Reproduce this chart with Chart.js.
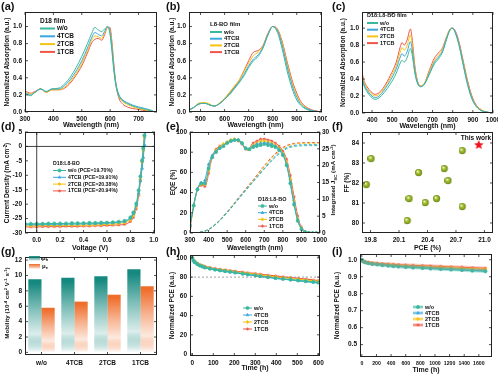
<!DOCTYPE html>
<html lang="en">
<head>
<meta charset="UTF-8" />
<title>TCB additive: absorption, J-V, EQE, mobility and stability</title>
<script src="https://cdn.jsdelivr.net/npm/chart.js"></script>
<style>
  body { margin: 0; background: #fff; }
  #fig { position: relative; width: 500px; height: 375px; overflow: hidden;
         font-family: "Liberation Sans", Arial, sans-serif; }
  #fig canvas { position: absolute; }
  .lab { position: absolute; z-index: 2; font-weight: bold; font-size: 11px; line-height: 11px; color: #111; }
</style>
</head>
<body>
<div id="fig">
  <div class="lab" style="left:1px;top:1px">(a)</div>
  <div class="lab" style="left:166px;top:1px">(b)</div>
  <div class="lab" style="left:332px;top:1px">(c)</div>
  <div class="lab" style="left:1px;top:121px">(d)</div>
  <div class="lab" style="left:166px;top:121px">(e)</div>
  <div class="lab" style="left:332px;top:121px">(f)</div>
  <div class="lab" style="left:1px;top:246px">(g)</div>
  <div class="lab" style="left:166px;top:246px">(h)</div>
  <div class="lab" style="left:332px;top:246px">(i)</div>
</div>

<script>
const FONT = '"Liberation Sans", Arial, sans-serif';
Chart.defaults.font.family = FONT;
Chart.defaults.font.size = 6.5;
Chart.defaults.font.weight = 'bold';
Chart.defaults.color = '#111';

const NAMES = ['w/o', '4TCB', '2TCB', '1TCB'];
const COL = ['#3bb79e', '#3ba7dd', '#f5c313', '#ef5547'];
const MARK = ['circle', 'triangle', 'rectRot', 'star'];

// (a) D18 film
const A_WL = [300,310,320,335,355,375,395,420,440,460,480,500,520,535,546,558,570,580,591,599,606,613,620,630,645,660,680,700,725,750];
const A_WO = [0.22,0.20,0.19,0.23,0.27,0.24,0.27,0.28,0.33,0.41,0.52,0.65,0.80,0.92,0.99,0.96,0.94,0.97,1.00,0.92,0.72,0.48,0.31,0.19,0.13,0.10,0.07,0.05,0.03,0.01];
const A_4TCB = [0.23,0.21,0.20,0.23,0.27,0.24,0.27,0.27,0.31,0.38,0.48,0.60,0.75,0.87,0.93,0.91,0.89,0.94,1.00,0.94,0.76,0.52,0.34,0.21,0.14,0.11,0.08,0.06,0.04,0.015];
const A_2TCB = [0.24,0.22,0.21,0.23,0.27,0.23,0.26,0.26,0.29,0.36,0.45,0.57,0.72,0.84,0.89,0.88,0.86,0.92,0.99,0.96,0.79,0.54,0.34,0.19,0.12,0.09,0.06,0.04,0.025,0.01];
const A_1TCB = [0.25,0.23,0.22,0.24,0.27,0.23,0.26,0.26,0.28,0.34,0.43,0.54,0.69,0.81,0.85,0.86,0.84,0.90,0.99,0.99,0.83,0.56,0.33,0.17,0.09,0.06,0.04,0.03,0.015,0.005];

// (b) L8-BO film
const B_WL = [450,470,490,505,520,540,558,580,600,620,640,660,680,700,720,740,760,780,800,820,840,860,880,900,920,950,1000];
const B_WO = [0.02,0.05,0.09,0.10,0.10,0.08,0.07,0.10,0.15,0.20,0.27,0.34,0.42,0.52,0.60,0.65,0.75,0.90,1.00,0.93,0.73,0.48,0.28,0.14,0.07,0.02,0.0];
const B_4TCB = [0.02,0.05,0.09,0.10,0.10,0.08,0.07,0.10,0.15,0.21,0.28,0.35,0.44,0.54,0.62,0.67,0.76,0.90,1.00,0.95,0.77,0.53,0.32,0.17,0.08,0.03,0.0];
const B_2TCB = [0.02,0.05,0.10,0.11,0.11,0.09,0.07,0.11,0.16,0.23,0.30,0.37,0.47,0.57,0.66,0.70,0.77,0.91,1.00,0.96,0.80,0.56,0.35,0.19,0.10,0.03,0.0];
const B_1TCB = [0.02,0.05,0.09,0.10,0.10,0.08,0.07,0.10,0.15,0.22,0.29,0.37,0.48,0.60,0.70,0.72,0.78,0.92,1.00,0.97,0.82,0.59,0.38,0.22,0.11,0.04,0.0];

// (c) D18:L8-BO blend film
const C_WL = [350,360,375,395,415,435,460,490,520,540,548,560,575,590,600,612,625,640,660,685,710,730,750,770,785,797,810,830,850,870,890,910,940,970,1000];
const C_WO = [0.40,0.32,0.25,0.19,0.16,0.18,0.24,0.34,0.47,0.59,0.62,0.60,0.66,0.76,0.67,0.47,0.35,0.31,0.34,0.46,0.58,0.64,0.72,0.87,0.97,1.00,0.96,0.81,0.59,0.37,0.20,0.10,0.03,0.01,0.0];
const C_4TCB = [0.43,0.34,0.27,0.21,0.18,0.20,0.27,0.38,0.52,0.66,0.70,0.67,0.73,0.84,0.73,0.50,0.36,0.31,0.34,0.47,0.60,0.66,0.73,0.88,0.97,1.00,0.97,0.82,0.60,0.38,0.21,0.10,0.03,0.01,0.0];
const C_2TCB = [0.45,0.36,0.29,0.23,0.20,0.22,0.29,0.41,0.56,0.72,0.77,0.74,0.80,0.92,0.79,0.53,0.37,0.32,0.35,0.49,0.62,0.68,0.75,0.89,0.98,1.00,0.97,0.83,0.62,0.40,0.22,0.11,0.04,0.01,0.0];
const C_1TCB = [0.48,0.38,0.31,0.25,0.22,0.24,0.31,0.44,0.60,0.78,0.83,0.80,0.87,0.99,0.85,0.56,0.38,0.32,0.35,0.51,0.65,0.71,0.77,0.90,0.98,1.00,0.98,0.85,0.64,0.42,0.24,0.12,0.04,0.01,0.0];

// (d) J-V
const V = [-0.1,-0.05,0,0.05,0.1,0.15,0.2,0.25,0.3,0.35,0.4,0.45,0.5,0.55,0.6,0.65,0.7,0.75,0.8,0.825,0.85,0.87,0.885,0.9,0.91,0.92,0.93];
const J_WO = [-26.8,-26.8,-26.8,-26.8,-26.7,-26.7,-26.7,-26.7,-26.6,-26.6,-26.6,-26.5,-26.5,-26.4,-26.4,-26.3,-26.1,-25.8,-24.6,-22.9,-19.8,-15.2,-10.4,-4.8,-0.6,3.8,8.5];
const J_4TCB = [-27.1,-27.1,-27.1,-27.0,-27.0,-27.0,-27.0,-26.9,-26.9,-26.9,-26.8,-26.8,-26.8,-26.7,-26.6,-26.5,-26.3,-26.0,-24.9,-23.3,-20.4,-16.2,-12.0,-7.6,-3.8,0.6,5.2];
const J_2TCB = [-27.5,-27.5,-27.5,-27.4,-27.4,-27.4,-27.4,-27.3,-27.3,-27.3,-27.2,-27.2,-27.2,-27.1,-27.0,-26.9,-26.7,-26.4,-25.4,-23.9,-20.9,-16.5,-11.5,-5.5,-1.4,3.2,8.0];
const J_1TCB = [-27.9,-27.9,-27.9,-27.8,-27.8,-27.8,-27.8,-27.7,-27.7,-27.7,-27.6,-27.6,-27.5,-27.5,-27.4,-27.3,-27.2,-27.0,-26.0,-24.6,-21.6,-17.0,-11.8,-5.2,-0.8,4.0,9.0];
const PCE = [19.70, 19.91, 20.38, 20.94];

// (e) EQE and integrated Jsc
const EQE_WL = [300,310,320,330,340,350,360,370,380,390,400,410,420,430,440,450,460,470,480,490,500,510,520,530,540,550,560,570,580,590,600,610,620,630,640,650,660,670,680,690,700,710,720,730,740,750,760,770,780,790,800,810,820,830,840,850,860,870,880,890,900,910,920,930,940,950,960,970,980,990,1000];
const EQE_WO = [8,17,27,36,43,47,49,49,49,54, 64,71,75,78,80,82,84,85,86,88, 89,90,91,92,92,92,92,91,89,86, 84,83,83,84,85,86,86,87,87,87, 88,88,87,87,86,86,85,84,82,80, 77,73,67,59,49,38,28,19,12,7, 4,2,1,0.5,0.2,0,0,0,0,0, 0];
const EQE_4TCB = [7,17,28,37,44,48,50,50,52,60, 68,73,77,79,81,83,84,85,86,88, 89,90,91,91,92,92,92,91,89,86, 84,83,83,85,86,87,88,88,89,89, 89,89,89,88,88,87,86,85,83,81, 78,74,68,60,50,40,30,20,13,8, 4,2,1,0.5,0.2,0,0,0,0,0, 0];
const EQE_2TCB = [6,16,27,36,43,47,48,48,48,53, 62,70,75,79,82,84,85,87,88,89, 90,91,92,92,93,92,92,91,89,86, 84,82,83,86,87,88,89,90,91,91, 91,91,90,90,89,88,87,86,84,82, 79,76,70,63,53,43,32,22,14,8, 5,2,1,0.5,0.2,0,0,0,0,0, 0];
const EQE_1TCB = [5,16,27,36,43,46,47,47,46,50, 59,68,75,80,83,85,86,87,88,89, 90,91,92,92,92,92,91,90,88,85, 83,82,83,87,89,90,91,92,93,93, 93,93,92,92,91,90,89,88,86,84, 81,78,73,66,57,47,36,26,17,10, 6,3,1.5,0.7,0.3,0.1,0,0,0,0, 0];
const JINT_WL = [300,350,400,450,500,550,600,650,700,750,800,850,900,950,1000];
const JINT_WO = [0,0.2,1.0,3.1,6.0,9.3,12.6,15.8,19.0,22.0,24.4,25.6,25.9,25.95,25.95];
const JINT_4TCB = [0,0.2,1.1,3.3,6.2,9.5,12.8,16.0,19.2,22.3,24.7,25.9,26.2,26.25,26.25];
const JINT_2TCB = [0,0.2,1.0,3.2,6.2,9.6,12.9,16.3,19.7,22.8,25.1,26.3,26.6,26.65,26.65];
const JINT_1TCB = [0,0.2,1.0,3.2,6.3,9.7,13.1,16.5,20.0,23.1,25.4,26.5,26.8,26.85,26.85];

// (f) literature PCE vs FF
const LIT_PCE = [19.76, 19.81, 20.19, 20.21, 20.31, 20.38, 20.50, 20.58, 20.62, 20.77, 20.77];
const LIT_FF = [81.9, 83.2, 80.1, 81.2, 82.5, 81.0, 81.2, 82.7, 82.1, 83.6, 80.8];
const THIS_PCE = 20.94;
const THIS_FF = 83.9;

// (g) mobility
const CATS = ['w/o', '4TCB', '2TCB', '1TCB'];
const MU_H = [9.5, 9.7, 9.9, 10.8];
const MU_E = [5.8, 6.6, 7.5, 8.6];

// (h) stability under condition 1
const T_H = [0,6,12,24,36,48,60,84,108,132,156,180,204,240,264,300,324,360,396,432,468,504,540,576,600];
const H_WO = [100,97,95.5,93.5,92,91,90,88.8,87.8,87,86.2,85.5,84.8,83.6,82.8,81.8,81,80,79,78.2,77.4,76.6,75.8,75,74.4];
const H_4TCB = [100,97,95.3,93.3,91.8,90.8,89.8,88.6,87.6,86.8,86,85.2,84.5,83.3,82.5,81.5,80.7,79.7,78.7,77.8,77,76.2,75.4,74.6,74];
const H_2TCB = [100,97.3,96,94,92.6,91.6,90.6,89.4,88.4,87.7,87,86.3,85.6,84.5,83.8,82.9,82.2,81.2,80.3,79.4,78.6,77.8,77,76.2,75.6];
const H_1TCB = [100,97.8,96.5,94.5,93,92,91.2,90,89,88.2,87.5,86.8,86.2,85.2,84.5,83.7,83,82,81.2,80.3,79.5,78.7,77.9,77,76.4];
const H_REF = 80;

// (i) stability under condition 2
const T_I = [0,20,45,90,140,210,280,360,430,500,600,700,830,940,1080,1220,1370,1510,1690];
const I_WO = [1.0,0.99,0.985,0.98,0.975,0.972,0.968,0.965,0.962,0.96,0.957,0.954,0.951,0.948,0.945,0.942,0.939,0.936,0.932];
const I_4TCB = [1.0,0.99,0.985,0.98,0.976,0.973,0.97,0.967,0.964,0.962,0.96,0.957,0.954,0.951,0.948,0.945,0.942,0.939,0.936];
const I_2TCB = [1.0,0.99,0.986,0.982,0.978,0.975,0.973,0.97,0.968,0.966,0.964,0.961,0.959,0.956,0.954,0.951,0.949,0.946,0.943];
const I_1TCB = [1.0,0.992,0.988,0.985,0.982,0.979,0.977,0.975,0.973,0.971,0.969,0.967,0.965,0.963,0.961,0.958,0.956,0.953,0.95];

// ---------- helpers ----------
const pts = (xs, ys) => xs.map((x, k) => ({x: x, y: ys[k]}));
const f0 = v => String(v);
const f1 = v => v.toFixed(1);

function rgba(hex, a) {
  const n = parseInt(hex.slice(1), 16);
  return `rgba(${n >> 16},${(n >> 8) & 255},${n & 255},${a})`;
}

function lin(min, max, ticks, fmt, title, extra) {
  return Object.assign({
    type: 'linear', min: min, max: max,
    grid: {display: false, drawTicks: false}, border: {display: false},
    ticks: {padding: 3, autoSkip: false, maxRotation: 0, callback: v => fmt(v)},
    afterBuildTicks: s => { s.ticks = ticks.map(v => ({value: v})); },
    title: title ? {display: true, text: title.text, font: {size: title.size || 6.5, weight: 'bold'}, padding: title.pad}
                 : {display: false}
  }, extra || {});
}

function line(xs, ys, i, opt) {
  return Object.assign({
    data: pts(xs, ys), borderColor: COL[i], backgroundColor: COL[i],
    borderWidth: 1, pointRadius: 0, cubicInterpolationMode: 'monotone'
  }, opt || {});
}

function marked(xs, ys, i, opt) {
  return line(xs, ys, i, Object.assign({
    pointRadius: 1.6, pointStyle: MARK[i], pointBorderWidth: 0.7,
    pointBackgroundColor: COL[i], pointBorderColor: COL[i]
  }, opt || {}));
}

function drawRich(c, it, ox, oy) {
  const sz = it.size;
  const big = `bold ${sz}px ${FONT}`, small = `bold ${sz * 0.68}px ${FONT}`;
  let w = 0;
  it.parts.forEach(p => { c.font = p.s ? small : big; w += c.measureText(p.t).width; });
  c.save();
  c.translate(it.x - ox, it.y - oy);
  c.rotate(it.rot || 0);
  c.textBaseline = 'middle'; c.textAlign = 'left'; c.fillStyle = '#111';
  let x = it.align === 'left' ? 0 : -w / 2;
  it.parts.forEach(p => {
    c.font = p.s ? small : big;
    const dy = p.s === 'sub' ? sz * 0.3 : p.s === 'sup' ? -sz * 0.32 : 0;
    c.fillText(p.t, x, dy);
    x += c.measureText(p.t).width;
  });
  c.restore();
}

// frame, inward ticks, legends and extra texts
const deco = {
  id: 'deco',
  afterDraw(chart) {
    const d = chart.canvas._deco || {};
    const c = chart.ctx, a = chart.chartArea;
    const ox = d.ox, oy = d.oy;
    c.save();
    if (d.zero) {
      const px = chart.scales.x.getPixelForValue(0), py = chart.scales.y.getPixelForValue(0);
      c.strokeStyle = '#111'; c.lineWidth = 0.8;
      c.beginPath();
      c.moveTo(px, a.top); c.lineTo(px, a.bottom);
      c.moveTo(a.left, py); c.lineTo(a.right, py);
      c.stroke();
    }
    c.strokeStyle = '#222'; c.lineWidth = 1;
    c.strokeRect(a.left + 0.5, a.top + 0.5, a.right - a.left - 1, a.bottom - a.top - 1);
    const hasRight = !!chart.scales.y2;
    c.lineWidth = 0.8;
    c.beginPath();
    Object.values(chart.scales).forEach(s => {
      s.ticks.forEach((t, i) => {
        const p = s.getPixelForTick(i);
        if (s.isHorizontal()) {
          c.moveTo(p, a.bottom); c.lineTo(p, a.bottom - 3);
          c.moveTo(p, a.top); c.lineTo(p, a.top + 3);
        } else if (s.position === 'left') {
          c.moveTo(a.left, p); c.lineTo(a.left + 3, p);
          if (!hasRight) { c.moveTo(a.right, p); c.lineTo(a.right - 3, p); }
        } else {
          c.moveTo(a.right, p); c.lineTo(a.right - 3, p);
        }
      });
    });
    c.stroke();

    if (d.legend) {
      const L = d.legend;
      c.font = `bold ${L.size}px ${FONT}`;
      c.textBaseline = 'middle'; c.textAlign = 'left';
      const x = L.x - ox;
      if (L.header) { c.fillStyle = '#111'; c.fillText(L.header, x, L.hy - oy); }
      (L.labels || NAMES).forEach((lab, k) => {
        const y = L.y - oy + k * L.dy;
        if (L.band) {
          c.strokeStyle = rgba(COL[k], 0.3); c.lineWidth = 3.5;
          c.beginPath(); c.moveTo(x, y); c.lineTo(x + L.len, y); c.stroke();
        }
        c.strokeStyle = COL[k]; c.lineWidth = L.lw;
        c.beginPath(); c.moveTo(x, y); c.lineTo(x + L.len, y); c.stroke();
        if (L.marks && Chart.helpers && Chart.helpers.drawPoint) {
          c.fillStyle = COL[k]; c.lineWidth = 0.7;
          Chart.helpers.drawPoint(c, {pointStyle: MARK[k], radius: 1.6, rotation: 0, borderWidth: 0.7}, x + L.len / 2, y);
        }
        c.fillStyle = '#111';
        c.fillText(lab, x + L.len + 2, y);
      });
    }
    (d.swatch || []).forEach(s => {
      const g = c.createLinearGradient(0, s.y - oy, 0, s.y - oy + s.h);
      g.addColorStop(0, s.color); g.addColorStop(1, rgba(s.color, 0.25));
      c.fillStyle = g;
      c.fillRect(s.x - ox, s.y - oy, s.w, s.h);
    });
    (d.texts || []).forEach(t => {
      c.font = `bold ${t.size}px ${FONT}`;
      c.textBaseline = 'middle'; c.textAlign = t.align || 'center'; c.fillStyle = '#111';
      c.fillText(t.t, t.x - ox, t.y - oy);
    });
    (d.rich || []).forEach(r => drawRich(c, r, ox, oy));
    c.restore();
  }
};
Chart.register(deco);

function panel(box, cfg) {
  const cv = document.createElement('canvas');
  const ox = box.x0 - box.L, oy = box.y0 - box.T;
  cv.width = box.x1 - box.x0 + box.L + box.R;
  cv.height = box.y1 - box.y0 + box.T + box.B;
  cv.style.left = ox + 'px';
  cv.style.top = oy + 'px';
  cv._deco = Object.assign({ox: ox, oy: oy}, cfg.deco || {});
  document.getElementById('fig').appendChild(cv);
  const sc = cfg.scales;
  const noPad = s => { s.paddingLeft = 0; s.paddingRight = 0; s.paddingTop = 0; s.paddingBottom = 0; };
  sc.x.afterFit = s => { s.height = box.B; noPad(s); };
  sc.y.afterFit = s => { s.width = box.L; noPad(s); };
  if (sc.y2) sc.y2.afterFit = s => { s.width = box.R; noPad(s); };
  return new Chart(cv, {
    type: cfg.type || 'line',
    data: {labels: cfg.labels, datasets: cfg.datasets},
    options: {
      responsive: false, animation: false, devicePixelRatio: 1,
      layout: {padding: {top: box.T, right: sc.y2 ? 0 : box.R, left: 0, bottom: 0}},
      scales: sc,
      plugins: {legend: {display: false}, tooltip: {enabled: false}}
    }
  });
}

const ABS_Y = [0, 0.2, 0.4, 0.6, 0.8, 1.0];
const absTitle = pad => ({text: 'Normalized Absorption (a.u.)', pad: {top: pad, bottom: 0}});
const wlTitle = pad => ({text: 'Wavelength (nm)', size: 7, pad: {top: 0, bottom: pad}});

// (a)
panel({x0: 25, y0: 12, x1: 157, y1: 112, L: 25, T: 12, R: 5, B: 19}, {
  datasets: [A_WO, A_4TCB, A_2TCB, A_1TCB].map((ys, i) => line(A_WL, ys, i)),
  scales: {
    x: lin(300, 765, [300, 400, 500, 600, 700], f0, wlTitle(1.8)),
    y: lin(0, 1.17, ABS_Y, f1, absTitle(3.6))
  },
  deco: {legend: {x: 40, hy: 21, y: 28.5, dy: 7.8, len: 15, lw: 2, size: 6.5, header: 'D18 film'}}
});

// (b)
panel({x0: 189, y0: 12, x1: 322, y1: 112, L: 24, T: 12, R: 5, B: 19}, {
  datasets: [B_WO, B_4TCB, B_2TCB, B_1TCB].map((ys, i) => line(B_WL, ys, i)),
  scales: {
    x: lin(452, 1005, [500, 600, 700, 800, 900, 1000], f0, wlTitle(1.8)),
    y: lin(0, 1.17, ABS_Y, f1, absTitle(3.1))
  },
  deco: {legend: {x: 210, hy: 24, y: 32, dy: 6.7, len: 12, lw: 2, size: 6, header: 'L8-BO film'}}
});

// (c)
panel({x0: 362, y0: 12, x1: 493, y1: 113, L: 32, T: 12, R: 5, B: 18}, {
  datasets: [C_WO, C_4TCB, C_2TCB, C_1TCB].map((ys, i) => line(C_WL, ys, i)),
  scales: {
    x: lin(350, 1000, [400, 500, 600, 700, 800, 900, 1000], f0, wlTitle(0.8)),
    y: lin(0, 1.19, ABS_Y, f1, absTitle(9))
  },
  deco: {legend: {x: 367, hy: 15.5, y: 23, dy: 6.7, len: 11, lw: 2, size: 5.5, header: 'D18:L8-BO film'}}
});

// (d)
panel({x0: 25, y0: 132, x1: 155, y1: 233, L: 25, T: 12, R: 5, B: 20}, {
  datasets: [J_WO, J_4TCB, J_2TCB, J_1TCB].map((ys, i) => marked(V, ys, i)),
  scales: {
    x: lin(-0.1, 1.01, [0, 0.2, 0.4, 0.6, 0.8, 1.0], f1, {text: 'Voltage (V)', size: 7, pad: {top: 0, bottom: 0.8}}),
    y: lin(-30, 5, [5, 0, -5, -10, -15, -20, -25, -30], f0, null)
  },
  deco: {
    zero: true,
    legend: {x: 53, hy: 163.5, y: 170.5, dy: 6.8, len: 13, lw: 1, size: 5.2, marks: true, header: 'D18:L8-BO',
             labels: NAMES.map((n, k) => `${n} (PCE=${PCE[k].toFixed(2)}%)`)},
    rich: [{x: 7.5, y: 183, rot: -Math.PI / 2, size: 6.5,
            parts: [{t: 'Current Density (mA cm'}, {t: '-2', s: 'sup'}, {t: ')'}]}]
  }
});

// (e)
panel({x0: 190, y0: 132, x1: 320, y1: 233, L: 25, T: 12, R: 18, B: 20}, {
  datasets: [
    ...[EQE_WO, EQE_4TCB, EQE_2TCB, EQE_1TCB].map((ys, i) =>
      marked(EQE_WL, ys, i, {yAxisID: 'y', pointRadius: c => (c.dataIndex % 2 ? 0 : 1.5)})),
    ...[JINT_WO, JINT_4TCB, JINT_2TCB, JINT_1TCB].map((ys, i) =>
      line(JINT_WL, ys, i, {yAxisID: 'y2', borderDash: [3, 2]}))
  ],
  scales: {
    x: lin(300, 1000, [300, 400, 500, 600, 700, 800, 900, 1000], f0, {text: 'Wavelength (nm)', size: 7, pad: {top: 0, bottom: 0.8}}),
    y: lin(0, 100, [0, 20, 40, 60, 80, 100], f0, {text: 'EQE (%)', pad: {top: 4, bottom: 0}}),
    y2: lin(0, 30, [0, 5, 10, 15, 20, 25, 30], f0, null, {position: 'right', ticks: {padding: 2, autoSkip: false, callback: v => String(v)}})
  },
  deco: {
    legend: {x: 258, hy: 199, y: 206, dy: 6.7, len: 9, lw: 1, size: 5.5, marks: true, header: 'D18:L8-BO'},
    rich: [{x: 333.5, y: 180, rot: -Math.PI / 2, size: 6.2,
            parts: [{t: 'Integrated J'}, {t: 'SC', s: 'sub'}, {t: ' (mA cm'}, {t: '-2', s: 'sup'}, {t: ')'}]}]
  }
});

// (f)
function ballImg(r) {
  const cv = document.createElement('canvas');
  cv.width = cv.height = Math.ceil(2 * r);
  const x = cv.getContext('2d');
  const g = x.createRadialGradient(r * 0.7, r * 0.65, r * 0.1, r, r, r);
  g.addColorStop(0, '#f4f8d8'); g.addColorStop(0.35, '#a9c43a'); g.addColorStop(1, '#6c8a12');
  x.fillStyle = g; x.beginPath(); x.arc(r, r, r, 0, Math.PI * 2); x.fill();
  return cv;
}
function starImg(r, col) {
  const cv = document.createElement('canvas');
  cv.width = cv.height = Math.ceil(2 * r) + 2;
  const x = cv.getContext('2d'), m = cv.width / 2;
  x.beginPath();
  for (let k = 0; k < 10; k++) {
    const rr = k % 2 ? r * 0.45 : r, ang = -Math.PI / 2 + k * Math.PI / 5;
    x.lineTo(m + rr * Math.cos(ang), m + rr * Math.sin(ang));
  }
  x.closePath(); x.fillStyle = col; x.fill();
  return cv;
}
panel({x0: 362, y0: 132, x1: 495, y1: 233, L: 32, T: 12, R: 4, B: 20}, {
  type: 'scatter',
  datasets: [
    {data: pts(LIT_PCE, LIT_FF), pointStyle: ballImg(3.6), pointRadius: 4},
    {data: [{x: THIS_PCE, y: THIS_FF}], pointStyle: starImg(5, '#f0141e'), pointRadius: 5}
  ],
  scales: {
    x: lin(19.71, 21.09, [19.8, 20.1, 20.4, 20.7, 21.0], f1, {text: 'PCE (%)', size: 7, pad: {top: 0, bottom: 0.8}}),
    y: lin(79.5, 84.55, [80, 81, 82, 83, 84], f0, {text: 'FF (%)', pad: {top: 13, bottom: 0}})
  },
  deco: {texts: [{t: 'This work', x: 476, y: 138.5, size: 6.5}]}
});

// (g)
function fade(col) {
  return ctx => {
    const ch = ctx.chart, ys = ch.scales.y;
    if (!ys || typeof ctx.raw !== 'number') return col;
    const yTop = ys.getPixelForValue(ctx.raw), yBase = ys.getPixelForValue(0);
    if (!isFinite(yTop) || !isFinite(yBase) || yTop === yBase) return col;
    const g = ch.ctx.createLinearGradient(0, yTop, 0, yBase);
    g.addColorStop(0, col); g.addColorStop(0.05, col);
    g.addColorStop(0.4, rgba(col, 0.55)); g.addColorStop(0.75, rgba(col, 0.15));
    g.addColorStop(1, 'rgba(255,255,255,1)');
    return g;
  };
}
panel({x0: 25, y0: 257, x1: 157, y1: 355, L: 25, T: 12, R: 5, B: 20}, {
  type: 'bar',
  labels: CATS,
  datasets: [
    {data: MU_H, backgroundColor: fade('#15897f'), categoryPercentage: 0.8, barPercentage: 1},
    {data: MU_E, backgroundColor: fade('#ef6e2c'), categoryPercentage: 0.8, barPercentage: 1}
  ],
  scales: {
    x: {type: 'category', offset: true, grid: {display: false, drawTicks: false}, border: {display: false},
        ticks: {padding: 4, maxRotation: 0, autoSkip: false}},
    y: lin(-0.34, 12.4, [0, 2, 4, 6, 8, 10, 12], f0, null)
  },
  deco: {
    swatch: [{x: 29, y: 256, w: 11, h: 4.5, color: '#15897f'}, {x: 29, y: 264, w: 11, h: 4.5, color: '#ef6e2c'}],
    rich: [
      {x: 42, y: 258.5, size: 6, align: 'left', parts: [{t: 'μ'}, {t: 'h', s: 'sub'}]},
      {x: 42, y: 266.5, size: 6, align: 'left', parts: [{t: 'μ'}, {t: 'e', s: 'sub'}]},
      {x: 7.5, y: 303, rot: -Math.PI / 2, size: 6.2,
       parts: [{t: 'Mobility (10'}, {t: '-4', s: 'sup'}, {t: ' cm'}, {t: '2', s: 'sup'}, {t: ' V'},
               {t: '-1', s: 'sup'}, {t: ' s'}, {t: '-1', s: 'sup'}, {t: ')'}]}
    ]
  }
});

// (h)
panel({x0: 190, y0: 255, x1: 320, y1: 356, L: 25, T: 10, R: 6, B: 19}, {
  datasets: [
    {data: [{x: -11, y: H_REF}, {x: 608, y: H_REF}], borderColor: '#888', borderWidth: 0.8, borderDash: [2, 2], pointRadius: 0},
    ...[H_WO, H_4TCB, H_2TCB, H_1TCB].map((ys, i) => marked(T_H, ys, i, {borderWidth: 1.2}))
  ],
  scales: {
    x: lin(-11, 608, [0, 100, 200, 300, 400, 500, 600], f0, {text: 'Time (h)', size: 7, pad: {top: 0, bottom: 2.8}}),
    y: lin(-2, 103, [0, 20, 40, 60, 80, 100], f0, {text: 'Normalized PCE (a.u.)', pad: {top: 3, bottom: 0}})
  },
  deco: {legend: {x: 243, y: 308, dy: 7, len: 9, lw: 1, size: 5.5, marks: true}}
});

// (i)
panel({x0: 360, y0: 254, x1: 492, y1: 357, L: 30, T: 9, R: 6, B: 18}, {
  datasets: [
    ...[I_WO, I_4TCB, I_2TCB, I_1TCB].map((ys, i) => line(T_I, ys, i, {borderColor: rgba(COL[i], 0.3), borderWidth: 3.5})),
    ...[I_WO, I_4TCB, I_2TCB, I_1TCB].map((ys, i) => marked(T_I, ys, i))
  ],
  scales: {
    x: lin(-25, 1780, [0, 200, 400, 600, 800, 1000, 1200, 1400, 1600], f0, {text: 'Time (h)', size: 7, pad: {top: 0, bottom: 0.8}},
           {ticks: {padding: 3, autoSkip: false, maxRotation: 0, font: {size: 5.2}, callback: v => String(v)}}),
    y: lin(0.427, 1.034, [0.5, 0.6, 0.7, 0.8, 0.9, 1.0], f1, {text: 'Normalized PCE (a.u.)', pad: {top: 3, bottom: 0}})
  },
  deco: {legend: {x: 413, y: 307, dy: 6, len: 10, lw: 1, size: 5.5, marks: true, band: true}}
});
</script>
</body>
</html>
